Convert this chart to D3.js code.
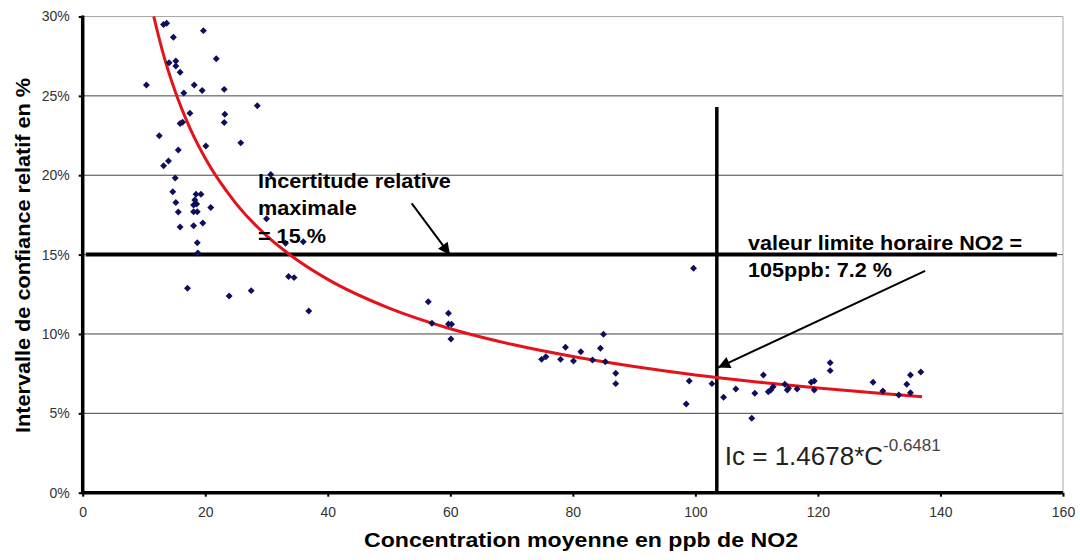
<!DOCTYPE html>
<html>
<head>
<meta charset="utf-8">
<script src="https://cdn.jsdelivr.net/npm/d3@7"></script>
<style>
  body { margin: 0; background: #fff; }
  text { font-family: Arial, "Liberation Sans", sans-serif; }
</style>
</head>
<body>
<div id="chart"></div>
<script>
// measured points : concentration (ppb) and relative interval (%)
const concentration = [
  10.4, 12.5, 13.2, 14.0, 13.2, 13.7, 14.8, 14.1, 15.2, 15.2, 15.9, 16.5, 18.2, 19.5, 19.7, 21.8, 23.1, 23.2, 23.1, 28.5,
  25.8, 20.1, 17.5, 15.9, 16.3, 15.6, 15.1, 14.7, 15.2, 15.6, 15.9, 18.1, 19.6, 18.5, 19.3, 18.3, 18.1, 18.6, 18.1, 18.7,
  20.9, 18.7, 18.8, 30.7, 30.0, 33.1, 36.0, 17.1, 23.9, 27.5, 33.6, 34.5, 36.9,
  56.4, 57.0, 59.7, 59.7, 60.2, 60.1, 74.9, 75.6, 78.0, 78.8, 80.1, 81.3, 83.2, 84.5, 85.0, 85.3, 87.0, 87.0, 98.5, 99.0,
  102.7, 99.7,
  104.6, 106.6, 109.2, 109.7, 111.1, 111.9, 112.3, 112.7, 114.6, 115.0, 115.2, 116.6, 118.9, 119.4, 119.4, 122.0, 122.0,
  129.0, 130.6, 133.2, 134.5, 135.1, 135.1, 136.8
];
const intervalPct = [
  25.68, 22.49, 20.60, 20.90, 29.50, 29.57, 28.69, 27.09, 27.20, 26.88, 26.49, 25.18, 25.69, 25.34, 29.11, 27.34, 25.41, 23.84, 23.32, 24.38,
  22.04, 21.84, 23.90, 23.26, 23.34, 21.59, 19.83, 18.96, 18.28, 17.68, 16.74, 16.82, 16.99, 18.80, 18.80, 18.44, 18.13, 18.19, 17.70, 17.70,
  17.97, 15.75, 15.10, 20.05, 17.26, 15.71, 15.81, 12.88, 12.39, 12.73, 13.62, 13.55, 11.45,
  12.03, 10.67, 11.30, 10.63, 10.61, 9.68, 8.40, 8.57, 8.40, 9.16, 8.30, 8.88, 8.36, 9.10, 9.98, 8.25, 7.52, 6.87, 5.59, 7.04,
  6.87, 14.14,
  6.01, 6.53, 4.69, 6.26, 7.42, 6.36, 6.47, 6.68, 6.83, 6.47, 6.58, 6.53, 6.96, 7.04, 6.47, 8.19, 7.69,
  6.96, 6.41, 6.16, 6.83, 7.42, 6.30, 7.60
];

// power trend line (red)
const trendC   = [11.6, 13, 15, 17.5, 20, 25, 30, 35, 40, 50, 60, 70, 80, 90, 100, 110, 120, 130, 137];
const trendPct = [30.0, 27.85, 25.38, 22.97, 21.07, 18.23, 16.19, 14.66, 13.44, 11.63, 10.33, 9.35, 8.58, 7.95, 7.42, 6.98, 6.60, 6.26, 6.05];

const xTicks = [0, 20, 40, 60, 80, 100, 120, 140, 160];
const yTicks = [0, 5, 10, 15, 20, 25, 30];

const maxUncertainty = 15;      // horizontal limit line
const limitConc = 103.5;        // vertical line
const limitTop = 24.3;

const width = 1080, height = 560;
const svg = d3.select("#chart").append("svg")
  .attr("width", width)
  .attr("height", height);

const x = d3.scaleLinear().domain([0, 160]).range([82.7, 1063]);
const y = d3.scaleLinear().domain([0, 30]).range([492.7, 16.5]);

svg.append("defs").append("marker")
  .attr("id", "head")
  .attr("viewBox", "0 0 10 10")
  .attr("refX", 10).attr("refY", 5)
  .attr("markerWidth", 7).attr("markerHeight", 6)
  .attr("markerUnits", "strokeWidth")
  .attr("orient", "auto")
  .append("path").attr("d", "M0,0L10,5L0,10z").attr("fill", "#000");

// grid
svg.append("g").selectAll("line")
  .data(yTicks.filter(d => d > 0))
  .enter().append("line")
    .attr("x1", x(0)).attr("x2", x(160))
    .attr("y1", d => y(d)).attr("y2", d => y(d))
    .attr("stroke", d => d === 30 ? "#a8a8a8" : "#444")
    .attr("stroke-width", 1);
svg.append("line")
  .attr("x1", x(160)).attr("x2", x(160))
  .attr("y1", y(30)).attr("y2", y(0))
  .attr("stroke", "#a8a8a8");

// axes
const yAxis = svg.append("g")
  .attr("transform", `translate(${x(0)},0)`)
  .call(d3.axisLeft(y).tickValues(yTicks).tickFormat(d => d + "%").tickSize(4).tickPadding(9));
const xAxis = svg.append("g")
  .attr("transform", `translate(0,${y(0)})`)
  .call(d3.axisBottom(x).tickValues(xTicks).tickSize(4).tickPadding(10));
[yAxis, xAxis].forEach(a => {
  a.select(".domain").remove();
  a.selectAll("line").attr("stroke", "#000").attr("stroke-width", 2);
  a.selectAll("text").attr("font-size", 14).attr("fill", "#333");
});

svg.append("line")
  .attr("x1", x(0)).attr("x2", x(0)).attr("y1", y(30) - 1).attr("y2", y(0) + 1.5)
  .attr("stroke", "#000").attr("stroke-width", 3.5);
svg.append("line")
  .attr("x1", x(0)).attr("x2", x(160)).attr("y1", y(0)).attr("y2", y(0))
  .attr("stroke", "#000").attr("stroke-width", 3.5);

// limit lines
svg.append("line")
  .attr("x1", x(0.5)).attr("x2", x(159))
  .attr("y1", y(maxUncertainty)).attr("y2", y(maxUncertainty))
  .attr("stroke", "#000").attr("stroke-width", 4);
svg.append("line")
  .attr("x1", x(limitConc)).attr("x2", x(limitConc))
  .attr("y1", y(limitTop)).attr("y2", y(0))
  .attr("stroke", "#000").attr("stroke-width", 3.5);

// trend
const trend = trendC.map((c, i) => [c, trendPct[i]]);
svg.append("path")
  .datum(trend)
  .attr("fill", "none")
  .attr("stroke", "#e3131b")
  .attr("stroke-width", 3)
  .attr("d", d3.line().x(d => x(d[0])).y(d => y(d[1])).curve(d3.curveMonotoneX));

// points
const pts = concentration.map((c, i) => [c, intervalPct[i]]);
svg.append("g").selectAll("path")
  .data(pts)
  .enter().append("path")
    .attr("d", d3.symbol(d3.symbolSquare, 24))
    .attr("transform", d => `translate(${x(d[0])},${y(d[1])}) rotate(45)`)
    .attr("fill", "#0e0e5c");

// annotations
function block(lines, cx, cy, size, sx) {
  const g = svg.append("g")
    .attr("transform", `translate(${x(cx)},${y(cy)}) scale(${sx},1)`);
  lines.forEach((t, i) => {
    g.append("text")
      .attr("y", i * 27.5)
      .attr("font-size", size)
      .attr("font-weight", "bold")
      .attr("fill", "#000")
      .text(t);
  });
}
block(["Incertitude relative", "maximale", "= 15 %"], 28.6, 19.2, 20, 1.085);
block(["valeur limite horaire NO2 =", "105ppb: 7.2 %"], 108.6, 15.29, 20, 1.08);

const arrows = [
  [[53.7, 18.23], [59.95, 14.98]],
  [[137.5, 13.97], [103.7, 7.88]]
];
svg.append("g").selectAll("line")
  .data(arrows)
  .enter().append("line")
    .attr("x1", d => x(d[0][0])).attr("y1", d => y(d[0][1]))
    .attr("x2", d => x(d[1][0])).attr("y2", d => y(d[1][1]))
    .attr("stroke", "#000").attr("stroke-width", 2)
    .attr("marker-end", "url(#head)");

const eq = svg.append("text")
  .attr("x", x(104.8)).attr("y", y(1.745))
  .attr("font-size", 26)
  .attr("fill", "#222");
eq.append("tspan").text("Ic = 1.4678*C");
eq.append("tspan").attr("dy", -14).attr("font-size", 17).attr("fill", "#444").text("-0.6481");

// axis titles
svg.append("text")
  .attr("x", 364).attr("y", 547.3)
  .attr("font-size", 20).attr("font-weight", "bold")
  .attr("textLength", 434).attr("lengthAdjust", "spacingAndGlyphs")
  .text("Concentration moyenne en ppb de NO2");

svg.append("text")
  .attr("transform", "translate(30,433) rotate(-90)")
  .attr("font-size", 20).attr("font-weight", "bold")
  .attr("textLength", 355).attr("lengthAdjust", "spacingAndGlyphs")
  .text("Intervalle de confiance relatif en %");
</script>
</body>
</html>
